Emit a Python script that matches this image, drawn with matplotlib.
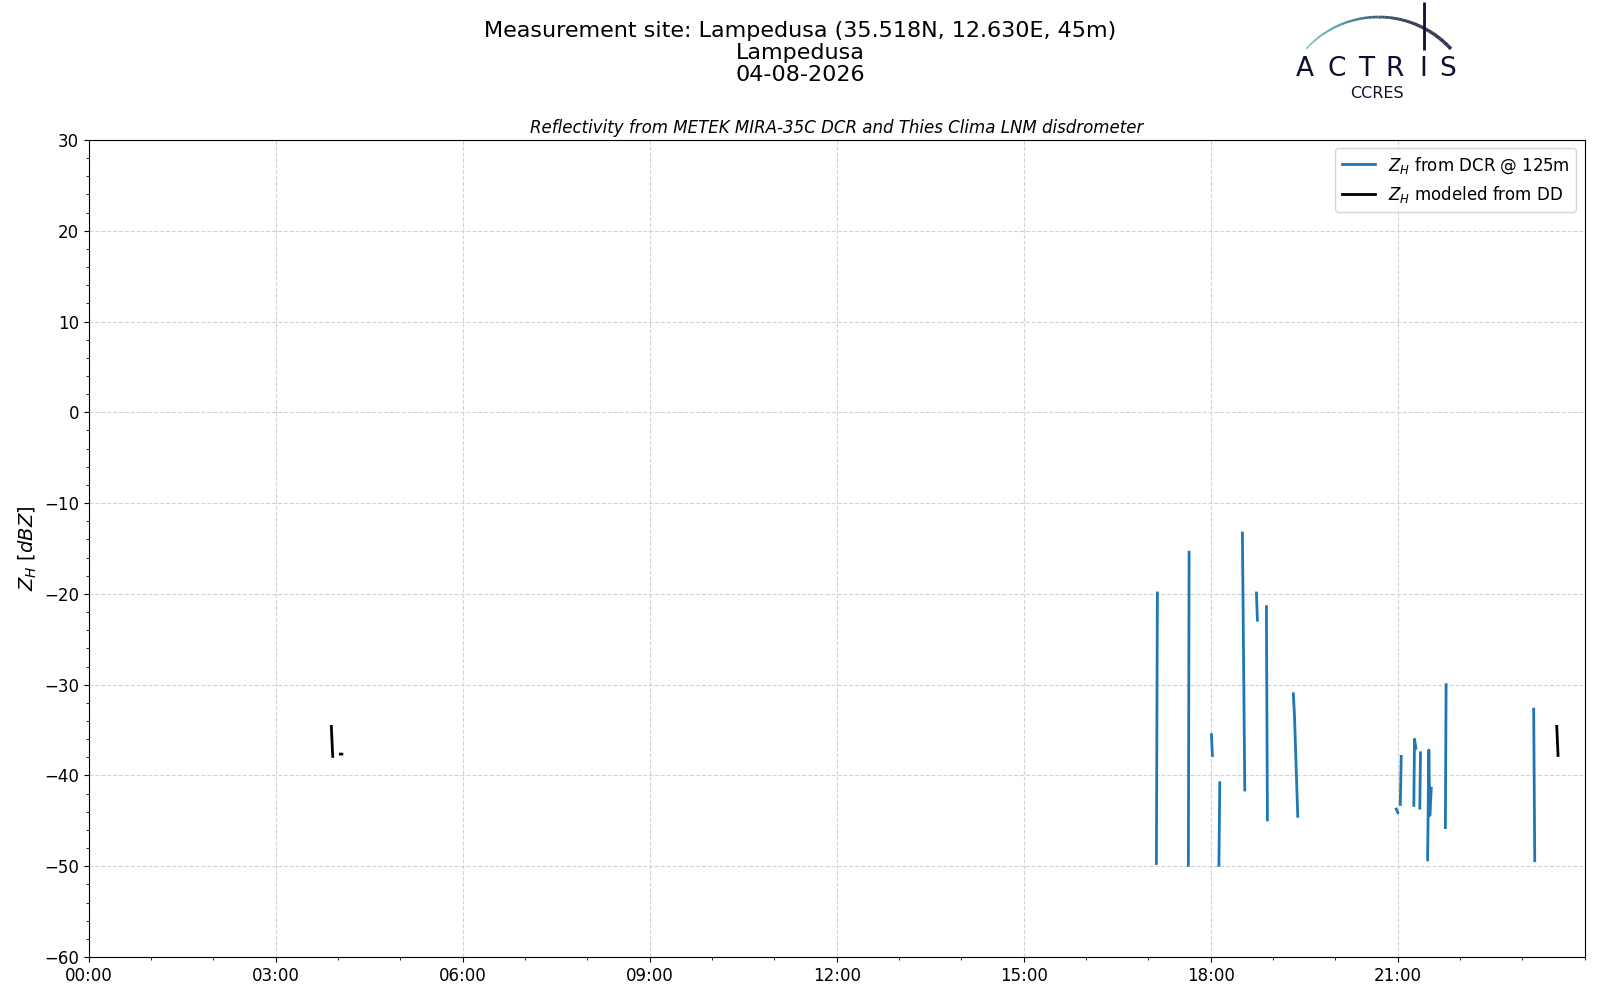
import numpy as np
import matplotlib
matplotlib.use("Agg")
import matplotlib.pyplot as plt
from matplotlib.ticker import MultipleLocator, FuncFormatter
from matplotlib.collections import LineCollection
from matplotlib.colors import LinearSegmentedColormap

nan = np.nan

# --- Data: time in decimal hours (UTC), reflectivity in dBZ ---
dcr_time = [17.127, 17.143, nan,
            17.640, 17.652, nan,
            18.010, 18.026, nan,
            18.130, 18.144, nan,
            18.507, 18.545, nan,
            18.732, 18.748, nan,
            18.892, 18.908, nan,
            19.324, 19.343, 19.383, 19.395, nan,
            20.975, 21.000, nan,
            21.040, 21.055, nan,
            21.257, 21.268, 21.290, nan,
            21.353, 21.364, nan,
            21.478, 21.498, 21.514, 21.537, nan,
            21.763, 21.775, nan,
            23.180, 23.197]
dcr_zh = [-49.7, -19.9, nan,
          -49.9, -15.4, nan,
          -35.5, -37.8, nan,
          -49.9, -40.8, nan,
          -13.3, -41.6, nan,
          -19.9, -22.9, nan,
          -21.4, -44.9, nan,
          -31.0, -33.5, -42.0, -44.5, nan,
          -43.7, -44.1, nan,
          -43.2, -37.9, nan,
          -43.3, -36.0, -37.0, nan,
          -43.6, -37.5, nan,
          -49.3, -37.2, -44.4, -41.4, nan,
          -45.75, -30.0, nan,
          -32.7, -49.4]

dd_time = [3.891, 3.913, nan, 4.035, 4.060, nan, 23.550, 23.571]
dd_zh = [-34.6, -37.9, nan, -37.65, -37.65, nan, -34.6, -37.8]

x_major_hours = [0, 3, 6, 9, 12, 15, 18, 21]
y_ticks = [-60, -50, -40, -30, -20, -10, 0, 10, 20, 30]

suptitle = "Measurement site: Lampedusa (35.518N, 12.630E, 45m)\nLampedusa\n04-08-2026"
ax_title = "Reflectivity from METEK MIRA-35C DCR and Thies Clima LNM disdrometer"
label_dcr = r"$Z_H$ from DCR @ 125m"
label_dd = r"$Z_H$ modeled from DD"

fig = plt.figure(figsize=(16, 10), dpi=100)
ax = fig.add_axes([0.0555, 0.043, 0.935, 0.817])

ax.plot(dcr_time, dcr_zh, color="#1f77b4", lw=2, label=label_dcr)
ax.plot(dd_time, dd_zh, color="black", lw=2, label=label_dd)

ax.set_xlim(0, 24)
ax.set_ylim(-60, 30)
ax.set_xticks(x_major_hours)
ax.xaxis.set_major_formatter(FuncFormatter(lambda v, p: f"{int(v):02d}:00"))
ax.xaxis.set_minor_locator(MultipleLocator(1))
ax.set_yticks(y_ticks)
ax.yaxis.set_major_formatter(FuncFormatter(lambda v, p: f"{int(v)}".replace("-", "\u2212")))
ax.yaxis.set_minor_locator(MultipleLocator(2))
ax.tick_params(axis="both", which="major", labelsize=12)
ax.grid(True, which="major", ls="--", color="lightgray", lw=0.8)
ax.set_axisbelow(True)
ax.set_ylabel(r"$Z_H$ [$dBZ$]", fontsize=14)
ax.set_title(ax_title, fontsize=12, style="italic", pad=5)
ax.legend(loc="upper right", fontsize=12, handlelength=2)

fig.suptitle(suptitle, fontsize=16, y=0.979, va="top", linespacing=1.12)

# --- ACTRIS CCRES logo (drawn, pixel coordinates) ---
lx0, lx1, ly0, ly1 = 1285, 1475, 0, 105
lax = fig.add_axes([lx0 / 1600, 1 - ly1 / 1000, (lx1 - lx0) / 1600, (ly1 - ly0) / 1000])
lax.set_xlim(lx0, lx1)
lax.set_ylim(ly1, ly0)
lax.axis("off")
cx, cy, R = 1378.5, 115.1, 98.1
th = np.linspace(np.deg2rad(137.6), np.deg2rad(42.4), 200)
xs = cx + R * np.cos(th)
ys = cy - R * np.sin(th)
pts = np.column_stack([xs, ys]).reshape(-1, 1, 2)
segs = np.concatenate([pts[:-1], pts[1:]], axis=1)
cmap = LinearSegmentedColormap.from_list("actris", ["#6cc3bd", "#2a8a93", "#15385a", "#0c1030", "#0c1030"])
lc = LineCollection(segs, cmap=cmap, linewidths=np.linspace(1.2, 2.6, 199))
lc.set_array(np.linspace(0, 1, 199))
lax.add_collection(lc)
lax.plot([1423.5, 1423.5], [2, 50], color="#0c1030", lw=2.0, solid_capstyle="butt")
for ch, xc in zip("ACTRIS", [1305, 1337, 1366, 1395, 1423.5, 1448]):
    lax.text(xc, 69, ch, fontsize=19, color="#0c1030", ha="center", va="center",
             family="DejaVu Sans", fontweight="normal")
lax.text(1377, 93, "CCRES", fontsize=11.5, color="#0c1030", ha="center", va="center")

fig.savefig("out.png", dpi=100)
